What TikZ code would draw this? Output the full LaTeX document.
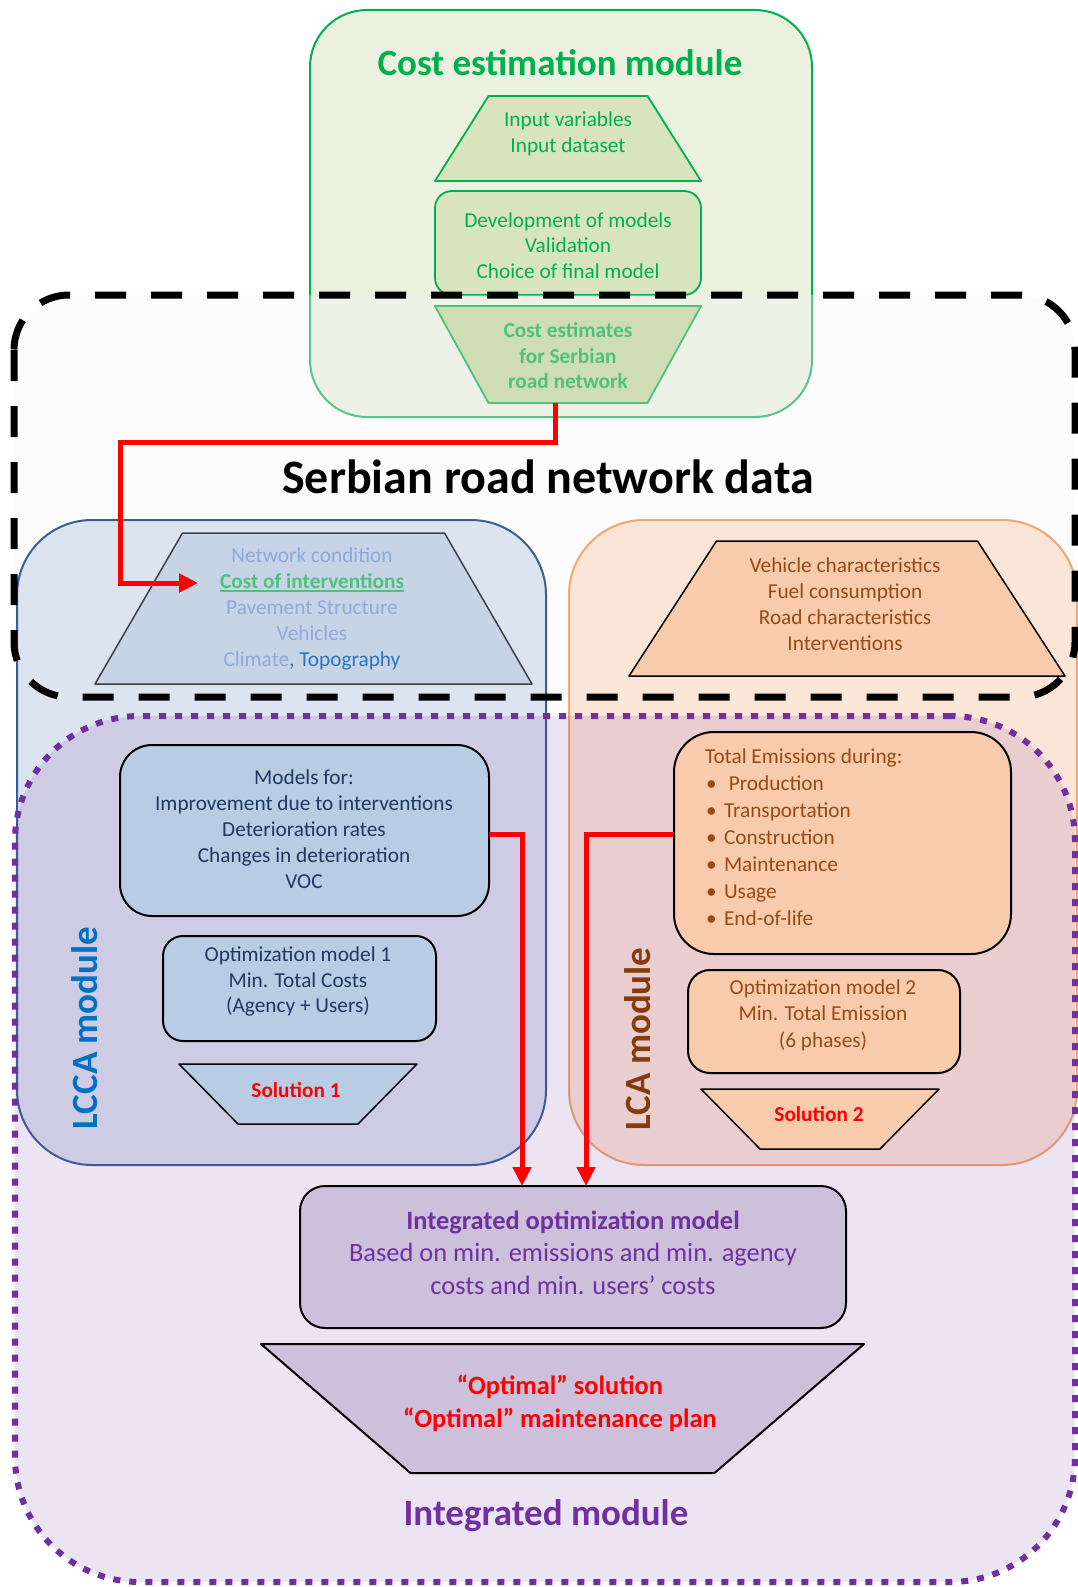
\documentclass[tikz,border=0pt]{standalone}
\usepackage{fontspec}
\setmainfont{Carlito}
\usetikzlibrary{arrows.meta}

\definecolor{cgreen}{HTML}{00B050}
\definecolor{cgreenfill}{HTML}{EBF1DE}
\definecolor{cgreentrap}{HTML}{D7E4BD}
\definecolor{cgreenlight}{HTML}{4CC27C}
\definecolor{cgreentrapB}{HTML}{CFDDB5}
\definecolor{cblueborder}{HTML}{3A5F95}
\definecolor{cbluefill}{HTML}{DCE4F0}
\definecolor{cbluetrap}{HTML}{C6D4E6}
\definecolor{cbluepale}{HTML}{8EA9DB}
\definecolor{cbluetopo}{HTML}{2E75B6}
\definecolor{cbluebox}{HTML}{B8CCE4}
\definecolor{cnavy}{HTML}{1F3864}
\definecolor{clccablue}{HTML}{0070C0}
\definecolor{cdarkgray}{HTML}{404040}
\definecolor{corangeborder}{HTML}{F2A672}
\definecolor{corangefill}{HTML}{FBE5D6}
\definecolor{corangebox}{HTML}{F8CBAD}
\definecolor{cbrown}{HTML}{964B16}
\definecolor{clabrown}{HTML}{843C0C}
\definecolor{cpurple}{HTML}{7030A0}
\definecolor{cpurplebox}{HTML}{CCC0DA}
\definecolor{cred}{HTML}{FF0000}

% thick underline for the highlighted input line
\newcommand\heavyul[1]{\leavevmode\setbox0=\hbox{#1}\rlap{\rule[-3.4pt]{\wd0}{1.6pt}}\box0}
% bullet with fixed indent for the emission phases
\newcommand\emisbullet{\hspace*{1pt}\makebox[18pt][l]{•}}

\tikzset{
  area/.style={rectangle, line width=2pt},
  bodytext/.style={font=\fontsize{21.3pt}{26pt}\selectfont, align=center},
  bigtext/.style={font=\fontsize{26.4pt}{32.5pt}\selectfont, align=center},
  modtitle/.style={font=\bfseries\fontsize{37pt}{40pt}\selectfont},
  greenpart/.style={draw=cgreen, fill=cgreentrap, line width=1.8pt, line join=round},
  bluepart/.style={draw=cdarkgray, fill=cbluetrap, line width=1.5pt, line join=round},
  orangepart/.style={draw=black, fill=corangebox, line width=1.5pt, line join=round},
  lccapart/.style={draw=black, fill=cbluebox, line width=2pt},
  lcapart/.style={draw=black, fill=corangebox, line width=2pt},
  integpart/.style={draw=black, fill=cpurplebox, line width=2pt},
  redarrow/.style={draw=cred, line width=5pt, -{Triangle[length=19pt, width=18pt]}},
  roaddash/.style={draw=black, line width=7pt, dash pattern=on 31pt off 25pt},
  purpledot/.style={draw=cpurple, line width=6pt, dash pattern=on 7pt off 9pt},
}

\begin{document}
\begin{tikzpicture}[x=1pt, y=-1pt, every node/.style={inner sep=0pt, outer sep=0pt}]
\useasboundingbox (0,0) rectangle (1078,1587);

% ---- cost estimation module ----
\node[area, draw=cgreen, fill=cgreenfill, rounded corners=57pt,
      minimum width=502pt, minimum height=407pt] (costmod) at (561,213.5) {};
\node[modtitle, text=cgreen] (costtitle) at (560,63) {Cost estimation module};
\node[minimum width=266pt, minimum height=85pt] (inputs) at (568,138.5) {};
\draw[greenpart] ([xshift=53.5pt]inputs.north west) -- ([xshift=-53.5pt]inputs.north east)
  -- (inputs.south east) -- (inputs.south west) -- cycle;
\node[bodytext, text=cgreen] (inputs-text) at (568,133.5) {Input variables\\Input dataset};
\node[greenpart, rounded corners=17pt, minimum width=266pt, minimum height=104pt] (devel) at (568,243) {};
\node[bodytext, font=\fontsize{21.3pt}{25.5pt}\selectfont, text=cgreen] (devel-text) at (568,245.5)
  {Development of models\\Validation\\Choice of final model};

% ---- road network area: translucent fill ----
\node[rectangle, fill=black!4, fill opacity=0.35, rounded corners=55pt,
      minimum width=1061pt, minimum height=402pt] (roadnet) at (544.5,496) {};

\node[minimum width=266pt, minimum height=97pt] (costest) at (568,354.5) {};
\draw[greenpart, draw=cgreenlight, fill=cgreentrapB] (costest.north west) -- (costest.north east)
  -- ([xshift=-53.5pt]costest.south east) -- ([xshift=53.5pt]costest.south west) -- cycle;
\node[bodytext, font=\bfseries\fontsize{21.3pt}{25.5pt}\selectfont, text=cgreenlight] (costest-text)
  at (568,356) {Cost estimates\\for Serbian\\road network};

% ---- LCCA and LCA modules ----
\node[area, draw=cblueborder, fill=cbluefill, rounded corners=75pt,
      minimum width=529pt, minimum height=645pt] (lccamod) at (281.5,842.5) {};
\node[area, draw=corangeborder, fill=corangefill, rounded corners=75pt,
      minimum width=508pt, minimum height=645pt] (lcamod) at (823,842.5) {};

% ---- integrated module ----
\node[purpledot, fill=cpurple, fill opacity=0.13, draw opacity=1, rounded corners=125pt,
      minimum width=1060pt, minimum height=866pt] (integmod) at (545,1149) {};

\node[font=\bfseries\fontsize{48pt}{50pt}\selectfont] (roadtitle) at (548,477) {Serbian road network data};

% ---- network data inputs ----
\node[minimum width=437pt, minimum height=151pt] (netdata) at (313.5,608.5) {};
\draw[bluepart] ([xshift=87.5pt]netdata.north west) -- ([xshift=-87.5pt]netdata.north east)
  -- (netdata.south east) -- (netdata.south west) -- cycle;
\node[bodytext, text=cbluepale] (netdata-text) at (312,609)
  {Network condition\\
   \textcolor{cgreenlight}{\bfseries\heavyul{Cost of interventions}}\\
   Pavement Structure\\Vehicles\\Climate\textcolor{cbluetopo}{, Topography}};
\coordinate (costin) at (198,583);

\node[minimum width=436pt, minimum height=135pt] (vehdata) at (847,608.5) {};
\draw[orangepart] ([xshift=87.5pt]vehdata.north west) -- ([xshift=-87.5pt]vehdata.north east)
  -- (vehdata.south east) -- (vehdata.south west) -- cycle;
\node[bodytext, text=cbrown] (vehdata-text) at (845,604)
  {Vehicle characteristics\\Fuel consumption\\Road characteristics\\Interventions};

\draw[roaddash, rounded corners=55pt] (roadnet.north west) rectangle (roadnet.south east);

% ---- LCCA contents ----
\node[lccapart, rounded corners=32pt, minimum width=369pt, minimum height=171pt] (models) at (304.5,830.5) {};
\node[bodytext, text=cnavy] (models-text) at (304,829.5)
  {Models for:\\Improvement due to interventions\\Deterioration rates\\Changes in deterioration\\VOC};
\node[lccapart, rounded corners=20pt, minimum width=273pt, minimum height=105pt] (opt1) at (299.5,988.5) {};
\node[bodytext, font=\fontsize{21.3pt}{25.5pt}\selectfont, text=cnavy] (opt1-text) at (298,981.7)
  {Optimization model 1\\Min. Total Costs\\(Agency + Users)};
\node[minimum width=238pt, minimum height=60pt] (sol1) at (298,1094) {};
\draw[lccapart, line width=1.5pt, line join=round] (sol1.north west) -- (sol1.north east)
  -- ([xshift=-59pt]sol1.south east) -- ([xshift=59pt]sol1.south west) -- cycle;
\node[font=\bfseries\fontsize{21.3pt}{26pt}\selectfont, text=cred] (sol1-text) at (296,1090) {Solution 1};
\node[modtitle, text=clccablue, rotate=90] (lccatitle) at (85,1028) {LCCA module};

% ---- LCA contents ----
\node[lcapart, rounded corners=40pt, minimum width=337pt, minimum height=222pt] (emis) at (842.5,843) {};
\node[font=\fontsize{21.3pt}{27pt}\selectfont, align=left, text=cbrown, anchor=north west] (emis-text) at (705,749)
  {Total Emissions during:\\
   \emisbullet\ Production\\
   \emisbullet Transportation\\
   \emisbullet Construction\\
   \emisbullet Maintenance\\
   \emisbullet Usage\\
   \emisbullet End-of-life};
\node[lcapart, rounded corners=22pt, minimum width=272pt, minimum height=103pt] (opt2) at (824,1021.5) {};
\node[bodytext, font=\fontsize{21.3pt}{26.5pt}\selectfont, text=cbrown] (opt2-text) at (823,1015.3)
  {Optimization model 2\\Min. Total Emission\\(6 phases)};
\node[minimum width=238pt, minimum height=60pt] (sol2) at (820,1119) {};
\draw[lcapart, line width=1.5pt, line join=round] (sol2.north west) -- (sol2.north east)
  -- ([xshift=-59pt]sol2.south east) -- ([xshift=59pt]sol2.south west) -- cycle;
\node[font=\bfseries\fontsize{21.3pt}{26pt}\selectfont, text=cred] (sol2-text) at (819,1114) {Solution 2};
\node[modtitle, text=clabrown, rotate=90] (lcatitle) at (638,1039) {LCA module};

% ---- integrated contents ----
\node[integpart, rounded corners=25pt, minimum width=546pt, minimum height=142pt] (integ) at (573,1257) {};
\node[bigtext, text=cpurple] (integ-text) at (573,1252.7)
  {\textbf{Integrated optimization model}\\Based on min. emissions and min. agency\\costs and min. users’ costs};
\node[minimum width=603pt, minimum height=129pt] (optimal) at (562.5,1408.5) {};
\draw[integpart, line join=round] (optimal.north west) -- (optimal.north east)
  -- ([xshift=-149.5pt]optimal.south east) -- ([xshift=149.5pt]optimal.south west) -- cycle;
\node[bigtext, font=\bfseries\fontsize{26.4pt}{33pt}\selectfont, text=cred] (optimal-text) at (560,1403.5)
  {“Optimal” solution\\“Optimal” maintenance plan};
\node[modtitle, text=cpurple] (integtitle) at (546,1516) {Integrated module};

% ---- connectors ----
\draw[redarrow] ([xshift=-12.5pt]costest.south) -- ++(0,39) -| ([xshift=-78pt]costin) -- (costin);
\draw[redarrow] ([yshift=-3.5pt]models.east) -| ([xshift=-51pt]integ.north);
\draw[redarrow] ([yshift=9pt]emis.west) -| ([xshift=13pt]integ.north);
\end{tikzpicture}
\end{document}
